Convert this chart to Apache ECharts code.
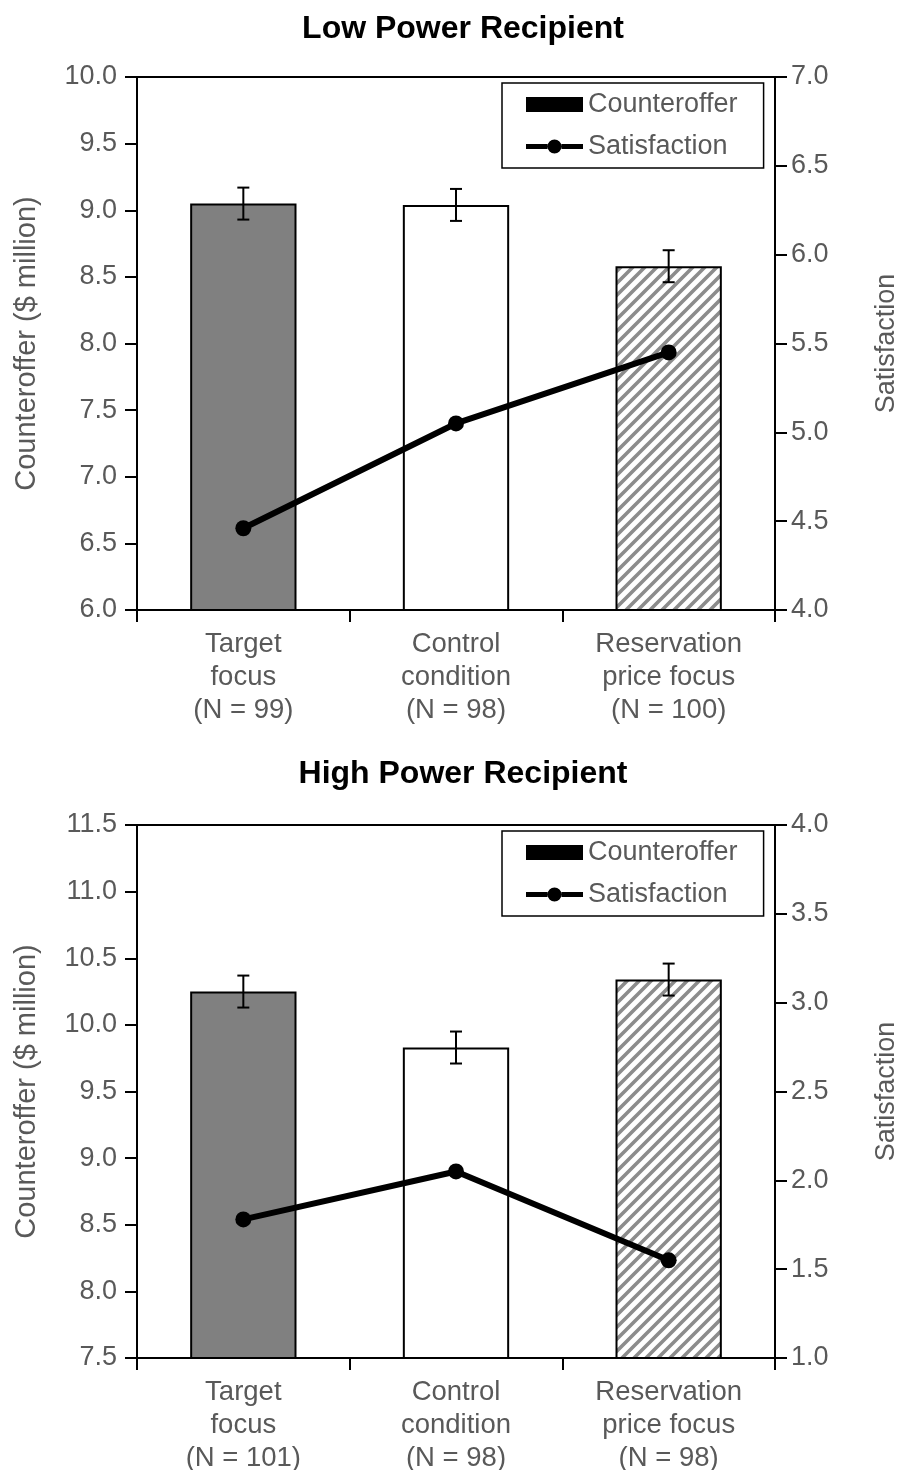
<!DOCTYPE html>
<html><head><meta charset="utf-8">
<script src="https://cdn.jsdelivr.net/npm/echarts@6/dist/echarts.min.js"></script>
<style>html,body{margin:0;padding:0;background:#fff;} #c{width:902px;height:1470px;}</style>
</head><body><div id="c"></div>
<script>
const lowCategories = ['Target\nfocus\n(N = 99)', 'Control\ncondition\n(N = 98)', 'Reservation\nprice focus\n(N = 100)'];
const highCategories = ['Target\nfocus\n(N = 101)', 'Control\ncondition\n(N = 98)', 'Reservation\nprice focus\n(N = 98)'];
const lowCounteroffer = [9.05, 9.04, 8.58];
const lowCounterofferErr = [0.12, 0.12, 0.12];
const lowSatisfaction = [4.46, 5.05, 5.45];
const highCounteroffer = [10.25, 9.83, 10.34];
const highCounterofferErr = [0.12, 0.12, 0.12];
const highSatisfaction = [1.78, 2.05, 1.55];
const panelTitles = ['Low Power Recipient', 'High Power Recipient'];
const leftAxisName = 'Counteroffer ($ million)';
const rightAxisName = 'Satisfaction';
const seriesNames = ['Counteroffer', 'Satisfaction'];

const FONT = 'Liberation Sans, Arial, sans-serif';
const GREY = '#595959';

function hatch() {
  const s = 12, c = document.createElement('canvas');
  c.width = s; c.height = s;
  const g = c.getContext('2d');
  g.fillStyle = '#fff'; g.fillRect(0, 0, s, s);
  g.strokeStyle = '#8c8c8c'; g.lineWidth = 3.6;
  g.beginPath();
  g.moveTo(-2, 2); g.lineTo(2, -2);
  g.moveTo(-1, s + 1); g.lineTo(s + 1, -1);
  g.moveTo(s - 2, s + 2); g.lineTo(s + 2, s - 2);
  g.stroke();
  return c;
}
const hatchImg = hatch();
const barFills = ['#808080', '#ffffff', { image: hatchImg, repeat: 'repeat' }];

const grids = [
  { left: 137, top: 77, width: 638, height: 533 },
  { left: 137, top: 825, width: 638, height: 533 }
];

function xAxis(gi, cats) {
  return {
    type: 'category', gridIndex: gi, data: cats,
    axisLine: { lineStyle: { color: '#000', width: 2 } },
    axisTick: { show: true, length: 12, lineStyle: { color: '#000', width: 2 } },
    axisLabel: { color: GREY, fontSize: 27.5, lineHeight: 33, margin: 18, fontFamily: FONT },
    splitLine: { show: false }
  };
}
function yAxis(gi, min, max, pos, name) {
  return {
    type: 'value', gridIndex: gi, min: min, max: max, interval: 0.5, position: pos,
    name: name, nameLocation: 'middle', nameRotate: 90, nameGap: pos === 'left' ? 96 : 98,
    nameTextStyle: { color: GREY, fontSize: pos === 'left' ? 29 : 27, fontFamily: FONT },
    axisLine: { show: true, lineStyle: { color: '#000', width: 2 } },
    axisTick: { show: true, length: 12, lineStyle: { color: '#000', width: 2 } },
    axisLabel: { color: GREY, fontSize: 27, fontFamily: FONT, margin: pos === 'left' ? 20 : 16,
      formatter: v => v.toFixed(1) },
    splitLine: { show: false }
  };
}
function barSeries(vals, xi, yi) {
  return {
    name: seriesNames[0], type: 'bar', xAxisIndex: xi, yAxisIndex: yi, barWidth: '50%',
    itemStyle: { color: '#000', borderColor: '#000', borderWidth: 2 },
    data: vals.map((v, i) => ({ value: v, itemStyle: { color: barFills[i], borderColor: '#000', borderWidth: 2 } })),
    z: 2
  };
}
function errSeries(vals, errs, xi, yi) {
  return {
    type: 'custom', xAxisIndex: xi, yAxisIndex: yi, z: 5, silent: true,
    data: vals.map((v, i) => [i, v - errs[i], v + errs[i]]),
    renderItem: function (params, api) {
      const lo = api.coord([api.value(0), api.value(1)]);
      const hi = api.coord([api.value(0), api.value(2)]);
      const w = 6;
      const st = { stroke: '#000', lineWidth: 2 };
      return { type: 'group', children: [
        { type: 'line', shape: { x1: lo[0], y1: lo[1], x2: hi[0], y2: hi[1] }, style: st },
        { type: 'line', shape: { x1: lo[0] - w, y1: lo[1], x2: lo[0] + w, y2: lo[1] }, style: st },
        { type: 'line', shape: { x1: hi[0] - w, y1: hi[1], x2: hi[0] + w, y2: hi[1] }, style: st }
      ] };
    }
  };
}
function lineSeries(vals, xi, yi) {
  return {
    name: seriesNames[1], type: 'line', xAxisIndex: xi, yAxisIndex: yi, data: vals,
    symbol: 'circle', symbolSize: 16,
    lineStyle: { color: '#000', width: 6 }, itemStyle: { color: '#000' }, z: 10
  };
}
const lineIcon = 'path://M0,4.5 L21.5,4.5 L21.5,9.5 L0,9.5 Z M35.5,4.5 L57,4.5 L57,9.5 L35.5,9.5 Z M21.5,7 A7,7 0 1,1 35.5,7 A7,7 0 1,1 21.5,7 Z';
function legend(top) {
  return {
    orient: 'vertical', left: 502, top: top,
    padding: [8, 26, 8, 24], itemGap: 15, itemWidth: 57, itemHeight: 15,
    borderColor: '#000', borderWidth: 1.5, backgroundColor: '#fff',
    textStyle: { color: GREY, fontSize: 27, fontFamily: FONT },
    selectedMode: false,
    data: [
      { name: seriesNames[0], icon: 'rect', itemStyle: { color: '#000', borderWidth: 0 } },
      { name: seriesNames[1], icon: lineIcon, itemStyle: { color: '#000', borderWidth: 0 } }
    ]
  };
}

const chart = echarts.init(document.getElementById('c'), null, { renderer: 'canvas' });
chart.setOption({
  animation: false,
  backgroundColor: '#fff',
  title: [
    { text: panelTitles[0], left: 458, top: 8, textAlign: 'center',
      textStyle: { fontFamily: FONT, fontWeight: 'bold', fontSize: 32, color: '#000' } },
    { text: panelTitles[1], left: 458, top: 753, textAlign: 'center',
      textStyle: { fontFamily: FONT, fontWeight: 'bold', fontSize: 32, color: '#000' } }
  ],
  legend: [legend(83), legend(831)],
  grid: grids.map(g => Object.assign({ show: true, borderColor: '#000', borderWidth: 2, backgroundColor: 'transparent', containLabel: false, outerBoundsMode: 'none' }, g)),
  xAxis: [xAxis(0, lowCategories), xAxis(1, highCategories)],
  yAxis: [
    yAxis(0, 6, 10, 'left', leftAxisName),
    yAxis(0, 4, 7, 'right', rightAxisName),
    yAxis(1, 7.5, 11.5, 'left', leftAxisName),
    yAxis(1, 1, 4, 'right', rightAxisName)
  ],
  series: [
    barSeries(lowCounteroffer, 0, 0),
    errSeries(lowCounteroffer, lowCounterofferErr, 0, 0),
    lineSeries(lowSatisfaction, 0, 1),
    barSeries(highCounteroffer, 1, 2),
    errSeries(highCounteroffer, highCounterofferErr, 1, 2),
    lineSeries(highSatisfaction, 1, 3)
  ]
});
</script>
</body></html>
